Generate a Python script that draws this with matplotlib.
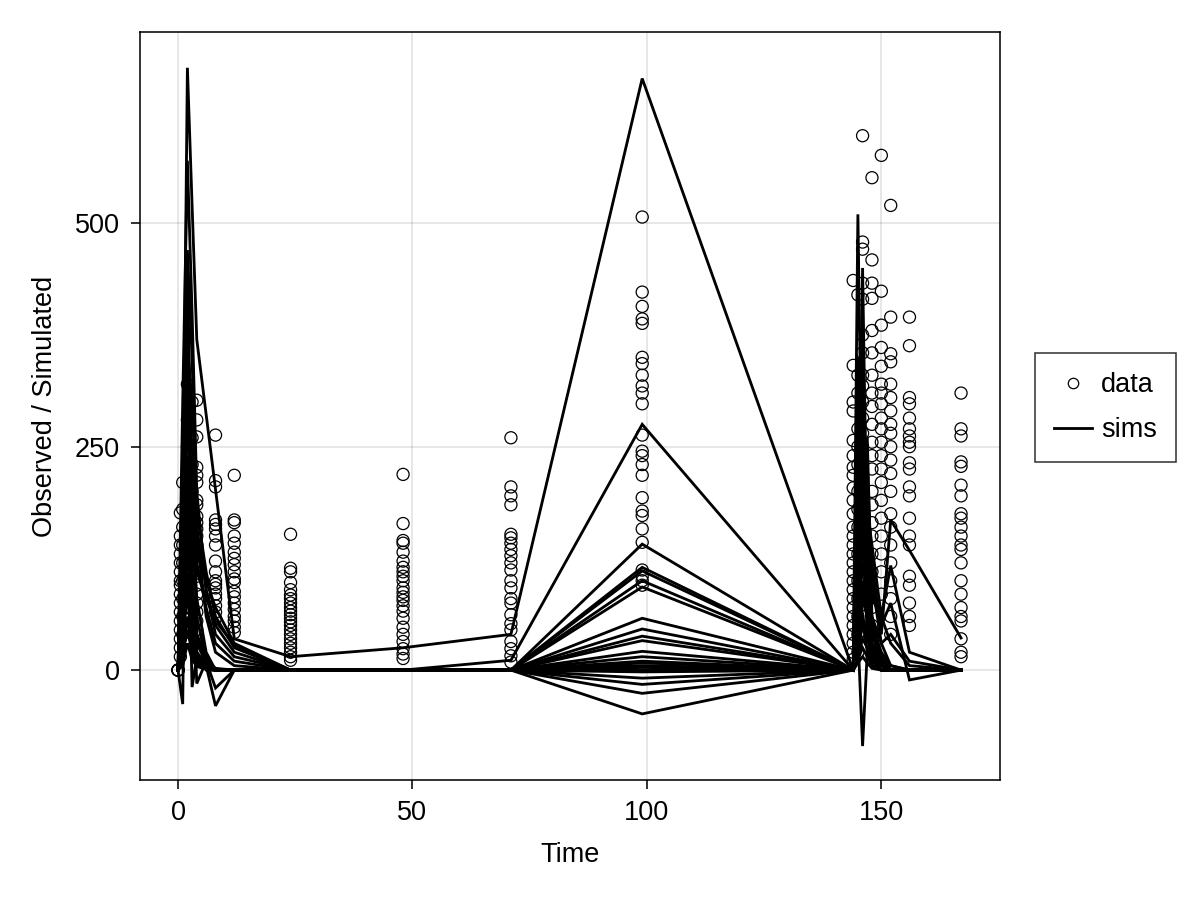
import matplotlib
matplotlib.use("Agg")
import matplotlib.pyplot as plt
from matplotlib.lines import Line2D

plt.rcParams['font.family'] = ['Liberation Sans', 'DejaVu Sans']

# ---- simulated curves (value at each simulation time) ----
sim_times = [0, 1, 2, 3, 4, 6, 8, 12, 24, 48, 71, 99, 144, 145, 146, 147, 148, 150, 152, 156, 167]

sim_01 = [0, 150, 674, 520, 370, 286, 202, 35, 15, 25, 40, 662, 0, 120, 60, 20, 5, 0, 0, 0, 0]
sim_02 = [0, 300, 570, 400, 200, 90, 40, 15, 0, 0, 11, 275, 0, 510, 150, 40, 10, 0, 0, 0, 0]
sim_03 = [0, 80, 470, 350, 150, 60, 20, 5, 0, 0, 0, 141, 0, 60, 450, 120, 30, 5, 0, 0, 0]
sim_04 = [0, 250, 440, 200, 60, 10, -20, 0, 0, 0, 0, 115, 0, 300, 180, 60, 15, 0, 0, 0, 0]
sim_05 = [0, -38, 400, 180, 80, 20, 0, 0, 0, 0, 0, 111, 0, 40, -85, 20, 5, 0, 0, 0, 0]
sim_06 = [0, 100, 360, 300, 180, 110, 60, 25, 0, 0, 0, 100, 0, 250, 330, 100, 20, 5, 0, 0, 0]
sim_07 = [0, 50, 330, 120, -15, 10, 0, 0, 0, 0, 0, 93, 0, 200, 280, 150, 40, 10, 0, 0, 0]
sim_08 = [0, 200, 300, 250, 40, 5, -40, 0, 0, 0, 0, 58, 0, 150, 220, 260, 60, 15, 0, 0, 0]
sim_09 = [0, 120, 280, 250, 160, 90, 50, 20, 0, 0, 0, 46, 0, 100, 300, 200, 120, 40, 168, 134, 36]
sim_10 = [0, 220, 260, 200, 120, 70, 30, 10, 0, 0, 0, 38, 0, 80, 200, 180, 140, 60, 117, 20, 0]
sim_11 = [0, 70, 240, 90, 30, 8, 0, 0, 0, 0, 0, 33, 0, 60, 150, 130, 90, 50, 75, -11, 0]
sim_12 = [0, 40, 220, 80, 20, 0, 0, 0, 0, 0, 0, 21, 0, 50, 120, 100, 60, 30, 40, 10, 0]
sim_13 = [0, 20, 200, -19, 15, 5, 0, 0, 0, 0, 0, 15, 0, 30, 100, 80, 50, 20, 5, 0, 0]
sim_14 = [0, 60, 185, 160, 130, 100, 70, 30, 0, 0, 0, 8, 0, 20, 80, 60, 30, 10, 0, 0, 0]
sim_15 = [0, 110, 170, 90, 40, 15, 0, 0, 0, 0, 0, 3, 0, 10, 60, 40, 20, 5, 0, 0, 0]
sim_16 = [0, 45, 155, 70, 30, 12, 2, 0, 0, 0, 0, -2, 0, 350, 240, 90, 25, 5, 0, 0, 0]
sim_17 = [0, 25, 140, 60, 20, 6, 0, 0, 0, 0, 0, -9, 0, 180, 360, 170, 50, 10, 0, 0, 0]
sim_18 = [0, 90, 125, 120, 110, 80, 55, 28, 0, 0, 0, -16, 0, 90, 260, 230, 100, 30, 5, 0, 0]
sim_19 = [0, 15, 110, 50, 20, 5, 0, 0, 0, 0, 0, -26, 0, 70, 140, 110, 80, 60, 30, 5, 0]
sim_20 = [0, 35, 95, 40, 12, 3, 0, 0, 0, 0, 0, -49, 0, 45, 90, 70, 40, 15, 0, 0, 0]
sim_21 = [0, 55, 80, 35, 10, 2, 0, 0, 0, 0, 0, 5, 0, 25, 50, 35, 20, 5, 0, 0, 0]
sim_22 = [0, 10, 60, 25, 8, 2, 0, 0, 0, 0, 0, 10, 0, 15, 35, 25, 10, 0, 0, 0, 0]
sim_23 = [0, 20, 45, 20, 6, 1, 0, 0, 0, 0, 0, 0, 0, 12, 25, 15, 5, 0, 0, 0, 0]
sim_24 = [0, 5, 30, 12, 4, 1, 0, 0, 0, 0, 0, 0, 0, 8, 15, 8, 2, 0, 0, 0, 0]

# ---- observed data (values per observation time) ----
obs_0 = [0, 0, 0, 0, 0]
obs_0p5 = [176, 150, 140, 130, 120, 110, 100, 95, 85, 75, 65, 55, 45, 35, 25, 15]
obs_1 = [210, 180, 160, 140, 120, 100, 80, 60, 40]
obs_2 = [320, 280, 250, 220, 190, 160, 130, 100, 70]
obs_3 = [300, 260, 230, 200, 170, 140, 110]
obs_4 = [302, 280, 261, 227, 218, 210, 190, 185, 172, 165, 158, 150, 140, 128, 118, 105, 95, 85, 75, 65, 55, 45]
obs_8 = [263, 212, 205, 168, 163, 158, 150, 140, 122, 110, 100, 96, 92, 85, 80, 72, 65, 58]
obs_12 = [218, 168, 165, 150, 142, 132, 125, 118, 110, 102, 98, 88, 82, 75, 68, 60, 55, 48, 42]
obs_24 = [152, 114, 110, 98, 90, 84, 80, 75, 70, 66, 62, 58, 54, 50, 45, 40, 35, 30, 25, 20, 15, 11]
obs_48 = [219, 164, 145, 142, 132, 122, 115, 110, 105, 100, 92, 87, 82, 78, 72, 66, 58, 48, 40, 32, 24, 18, 13]
obs_71 = [260, 205, 195, 185, 152, 148, 142, 135, 128, 120, 112, 100, 92, 80, 75, 62, 52, 45, 32, 24, 16, 9]
obs_99 = [507, 423, 407, 393, 388, 350, 343, 330, 318, 310, 298, 263, 245, 240, 230, 218, 193, 178, 173, 158, 143, 112, 105, 100, 95]
obs_144 = [436, 341, 300, 290, 257, 240, 227, 218, 204, 190, 175, 160, 150, 140, 130, 120, 110, 100, 90, 80, 70, 60, 50, 40, 30, 20, 12]
obs_145 = [420, 330, 310, 270, 250, 230, 200, 180, 160, 130, 100, 80, 60, 40, 20]
obs_146 = [598, 479, 471, 433, 415, 375, 355, 330, 318, 300, 282, 265, 250, 232, 215, 200, 185, 170, 150, 135, 120, 100, 80, 60, 40]
obs_148 = [551, 459, 433, 416, 380, 355, 330, 310, 295, 275, 255, 240, 225, 200, 185, 165, 150, 130, 110, 90, 70, 50, 30]
obs_150 = [576, 424, 386, 361, 340, 320, 310, 298, 282, 270, 255, 240, 225, 210, 190, 170, 150, 130, 110, 85]
obs_152 = [520, 395, 354, 345, 320, 305, 290, 275, 265, 250, 235, 220, 200, 175, 160, 140, 120, 100, 80, 60, 40]
obs_156 = [395, 363, 305, 298, 282, 270, 262, 255, 250, 232, 225, 205, 195, 170, 150, 140, 105, 95, 75, 60, 50]
obs_167 = [310, 270, 262, 233, 228, 207, 195, 175, 170, 160, 150, 140, 135, 120, 100, 85, 70, 60, 55, 35, 20, 15]

obs_times = [0, 0.5, 1, 2, 3, 4, 8, 12, 24, 48, 71, 99, 144, 145, 146, 148, 150, 152, 156, 167]
obs_columns = [obs_0, obs_0p5, obs_1, obs_2, obs_3, obs_4, obs_8, obs_12, obs_24, obs_48, obs_71,
               obs_99, obs_144, obs_145, obs_146, obs_148, obs_150, obs_152, obs_156, obs_167]
sim_curves = [sim_01, sim_02, sim_03, sim_04, sim_05, sim_06, sim_07, sim_08, sim_09, sim_10,
              sim_11, sim_12, sim_13, sim_14, sim_15, sim_16, sim_17, sim_18, sim_19, sim_20,
              sim_21, sim_22, sim_23, sim_24]

fig = plt.figure(figsize=(8, 6), dpi=150)
ax = fig.add_axes([0.1167, 0.1333, 0.7166, 0.8311])

xs, ys = [], []
for t, col in zip(obs_times, obs_columns):
    xs.extend([t] * len(col))
    ys.extend(col)
ax.scatter(xs, ys, s=5.8 ** 2, facecolors='none', edgecolors='black', linewidths=0.6, zorder=2)

for curve in sim_curves:
    ax.plot(sim_times, curve, color='black', linewidth=1.35, solid_joinstyle='miter', zorder=3)

ax.set_xlim(-8.1, 175.3)
ax.set_ylim(-123, 714)
ax.set_xticks([0, 50, 100, 150])
ax.set_yticks([0, 250, 500])
ax.grid(True, color='black', alpha=0.12, linewidth=0.75)
ax.set_axisbelow(True)
for sp in ax.spines.values():
    sp.set_linewidth(0.75)
ax.tick_params(direction='out', length=4.5, width=0.75, labelsize=13, pad=5)
ax.set_xlabel('Time', fontsize=13, labelpad=8)
ax.set_ylabel('Observed / Simulated', fontsize=13, labelpad=8)

handles = [
    Line2D([], [], linestyle='none', marker='o', markersize=5, markerfacecolor='none',
           markeredgecolor='black', markeredgewidth=0.6),
    Line2D([], [], color='black', linewidth=1.35),
]
leg = fig.legend(handles, ['data', 'sims'], loc='center left',
                 bbox_to_anchor=(0.8625, 0.547), bbox_transform=fig.transFigure,
                 fontsize=13, frameon=True, fancybox=False, handlelength=1.4,
                 borderpad=0.7, labelspacing=0.7, handletextpad=0.35, borderaxespad=0)
leg.get_frame().set_edgecolor('black')
leg.get_frame().set_linewidth(0.75)

fig.savefig('out.png', dpi=150)
